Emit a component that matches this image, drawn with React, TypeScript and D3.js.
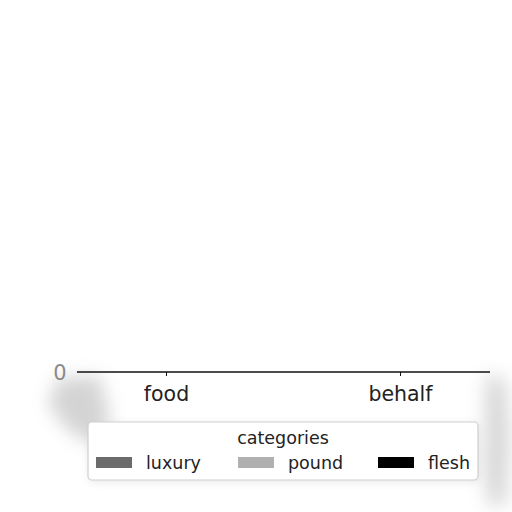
import React from "react";
import * as d3 from "d3";

const categories = ["food", "behalf"];
const seriesNames = ["luxury", "pound", "flesh"];
const luxury = [0, 0];
const pound = [0, 0];
const flesh = [0, 0];
const seriesColors = ["#6b6b6b", "#b0b0b0", "#000000"];
const yTicks = [0];
const legendTitle = "categories";

export default function App() {
  const W = 512, H = 512;
  const left = 77, right = 490, top = 20, base = 372;
  const x = d3.scalePoint<string>().domain(categories).range([left, right]).padding(0.3825);
  const y = d3.scaleLinear().domain([0, 1]).range([base, top]);
  const groupW = 150;
  const xs = d3.scaleBand<string>().domain(seriesNames).range([-groupW / 2, groupW / 2]).padding(0.1);
  const values = [luxury, pound, flesh];
  const font = "DejaVu Sans, sans-serif";

  const lgX = 88, lgY = 422, lgW = 390, lgH = 58;
  const entryX = [96, 238, 378];

  return (
    <svg width={W} height={H} style={{ position: "absolute", left: 0, top: 0, background: "#fff" }}>
      <defs>
        <filter id="blur" x="-50%" y="-50%" width="200%" height="200%">
          <feGaussianBlur stdDeviation="9" />
        </filter>
        <filter id="blur2" x="-50%" y="-50%" width="200%" height="200%">
          <feGaussianBlur stdDeviation="4" />
        </filter>
      </defs>
      <rect width={W} height={H} fill="#fff" />
      {/* soft shadows */}
      <g filter="url(#blur)" opacity={0.45}>
        <path d="M58,378 L100,376 L110,420 L96,445 L70,432 L48,405 Z" fill="#a0a0a0" />
        <path d="M486,374 L506,380 L510,440 L506,505 L488,505 L484,470 Z" fill="#a8a8a8" />
      </g>
      <g filter="url(#blur2)" opacity={0.35}>
        <rect x={lgX + 1} y={lgY + 2} width={lgW} height={lgH} rx={4} fill="#bdbdbd" />
      </g>
      {/* bars (all zero) */}
      {categories.map((c, i) =>
        values.map((vals, s) => (
          <rect
            key={c + s}
            x={(x(c) as number) + (xs(seriesNames[s]) as number)}
            y={y(vals[i])}
            width={xs.bandwidth()}
            height={base - y(vals[i])}
            fill={seriesColors[s]}
          />
        ))
      )}
      {/* x axis */}
      <line x1={left} x2={right} y1={base} y2={base} stroke="#111" strokeWidth={1.6} />
      {categories.map((c) => (
        <g key={c}>
          <line x1={x(c)} x2={x(c)} y1={base} y2={base + 4} stroke="#111" strokeWidth={1} />
          <text x={x(c)} y={base + 29} textAnchor="middle" fontFamily={font} fontSize={20.5} fill="#222">
            {c}
          </text>
        </g>
      ))}
      {yTicks.map((t) => (
        <text key={t} x={60} y={y(t) + 8} textAnchor="middle" fontFamily={font} fontSize={21} fill="#8a8a8a">
          {t}
        </text>
      ))}
      {/* legend */}
      <rect x={lgX} y={lgY} width={lgW} height={lgH} rx={4} fill="#fff" stroke="#cfcfcf" strokeWidth={1.2} />
      <text x={lgX + lgW / 2} y={lgY + 22} textAnchor="middle" fontFamily={font} fontSize={17.5} fill="#222">
        {legendTitle}
      </text>
      {seriesNames.map((n, i) => (
        <g key={n}>
          <rect x={entryX[i]} y={lgY + 35} width={36} height={11} fill={seriesColors[i]} />
          <text x={entryX[i] + 50} y={lgY + 47} fontFamily={font} fontSize={17.5} fill="#222">
            {n}
          </text>
        </g>
      ))}
    </svg>
  );
}
